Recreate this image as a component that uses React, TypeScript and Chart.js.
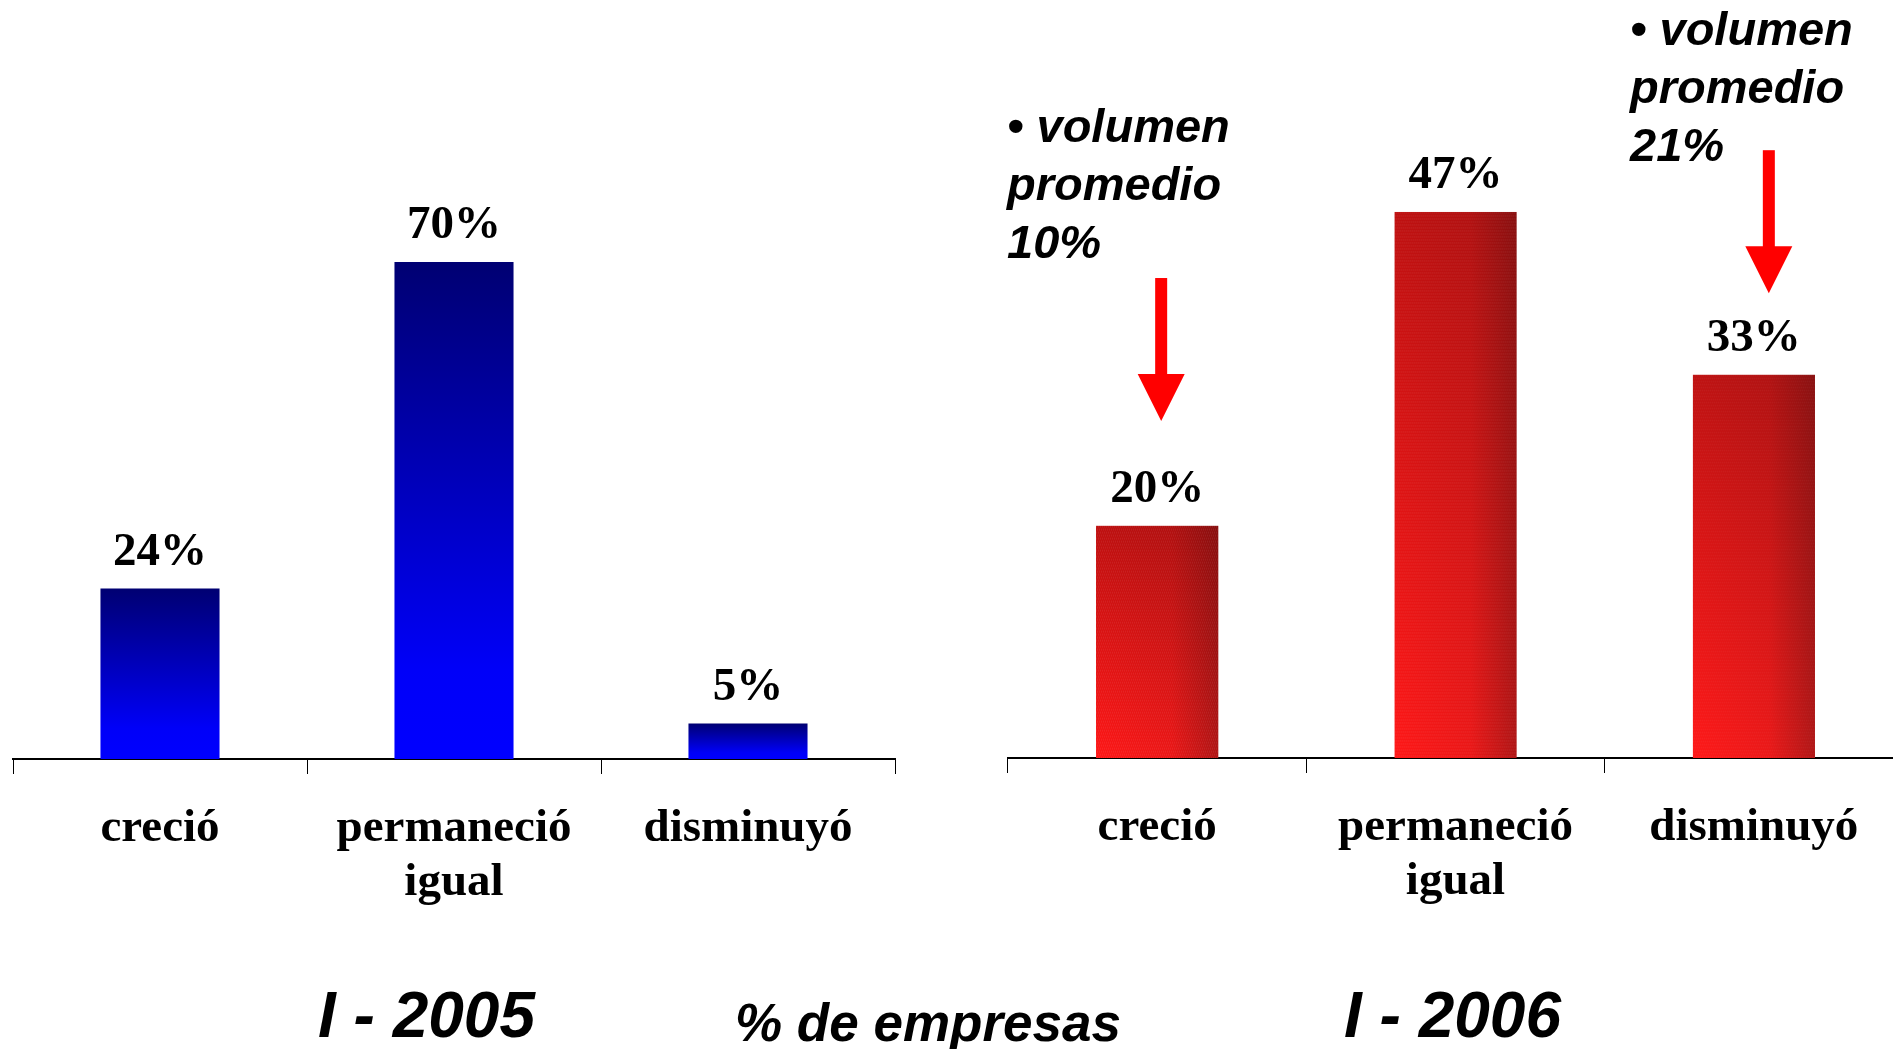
import React, { useEffect, useRef } from 'react';
import { Chart, registerables } from 'chart.js';

Chart.register(...registerables);

// ---------------- data ----------------
const categories: string[][] = [['creció'], ['permaneció', 'igual'], ['disminuyó']];
const share2005: number[] = [24, 70, 5];
const share2006: number[] = [20, 47, 33];
const avgVolume2006: (number | null)[] = [10, null, 21];
const periodLabels: string[] = ['I - 2005', 'I - 2006'];
const unitLabel = '% de empresas';
const noteLines: string[] = ['• volumen', 'promedio'];

// ---------------- layout / style ----------------
const PAGE_W = 1893;
const PAGE_H = 1049;
const RIGHT_LEFT = 950;
const RIGHT_W = 1000;
const SERIF = '"Liberation Serif", "Times New Roman", serif';
const SANS = '"Liberation Sans", Arial, sans-serif';

const BAR_PCT_2005 = 0.405;
const BAR_PCT_2006 = 0.41;

// arrows / notes for 2006 (tip in data units, note position in canvas px)
const arrowMarks2006 = [
  { index: 0, dx: 4, tipValue: 29, noteX: 57, noteY: 142 },
  { index: 2, dx: 15, tipValue: 40, noteX: 680, noteY: 45 },
];
const ARROW_SHAFT = 96;
const ARROW_HEAD = 47;

const blueFill = (ctx: any) => {
  const chart = ctx.chart;
  if (!chart.chartArea || ctx.type !== 'data') return '#0000c0';
  const ys = chart.scales.y;
  const top = ys.getPixelForValue(ctx.raw as number);
  const bottom = ys.getPixelForValue(0);
  const g = chart.ctx.createLinearGradient(0, top, 0, bottom);
  g.addColorStop(0, '#000072');
  g.addColorStop(0.82, '#0000f8');
  g.addColorStop(1, '#0000ff');
  return g;
};

const redFill = (ctx: any) => {
  const chart = ctx.chart;
  if (!chart.chartArea || ctx.type !== 'data') return '#e01414';
  const xs = chart.scales.x;
  const ys = chart.scales.y;
  const cx = xs.getPixelForValue(ctx.dataIndex);
  const w = (xs.width / categories.length) * BAR_PCT_2006;
  const top = ys.getPixelForValue(ctx.raw as number);
  const bottom = ys.getPixelForValue(0);
  const x0 = cx - w / 2;
  const off = document.createElement('canvas');
  off.width = Math.ceil(w) + 2;
  off.height = Math.ceil(bottom - top) + 2;
  const g = off.getContext('2d')!;
  const hg = g.createLinearGradient(0, 0, w, 0);
  hg.addColorStop(0, '#ff1616');
  hg.addColorStop(0.62, '#ec1616');
  hg.addColorStop(1, '#b01414');
  g.fillStyle = hg;
  g.fillRect(0, 0, off.width, off.height);
  const vg = g.createLinearGradient(0, 0, 0, off.height);
  vg.addColorStop(0, 'rgba(40,0,0,0.3)');
  vg.addColorStop(1, 'rgba(40,0,0,0)');
  g.fillStyle = vg;
  g.fillRect(0, 0, off.width, off.height);
  g.fillStyle = 'rgba(255,255,255,0.07)';
  for (let yy = 0; yy < off.height; yy += 3) {
    for (let xx = (yy / 3) % 2; xx < off.width; xx += 2) g.fillRect(xx, yy, 1, 2);
  }
  const pat = chart.ctx.createPattern(off, 'no-repeat');
  if (pat && (pat as any).setTransform) (pat as any).setTransform(new DOMMatrix([1, 0, 0, 1, x0, top]));
  return pat || '#e01414';
};

const valueLabels = {
  id: 'valueLabels',
  afterDatasetsDraw(chart: any) {
    const meta = chart.getDatasetMeta(0);
    const data = chart.data.datasets[0].data;
    const ctx = chart.ctx;
    ctx.save();
    ctx.font = `bold 47px ${SERIF}`;
    ctx.fillStyle = '#000';
    ctx.textAlign = 'center';
    ctx.textBaseline = 'alphabetic';
    meta.data.forEach((el: any, i: number) => {
      ctx.fillText(`${data[i]}%`, el.x, el.y - 24);
    });
    ctx.restore();
  },
};

const pageTitles = {
  id: 'pageTitles',
  afterDraw(chart: any) {
    const ctx = chart.ctx;
    ctx.save();
    ctx.fillStyle = '#000';
    ctx.textAlign = 'left';
    ctx.textBaseline = 'alphabetic';
    ctx.font = `italic bold 64px ${SANS}`;
    ctx.fillText(periodLabels[0], 318, 1037);
    ctx.fillText(periodLabels[1], 1344, 1037);
    ctx.font = `italic bold 53px ${SANS}`;
    ctx.fillText(unitLabel, 735, 1041);
    ctx.restore();
  },
};

const notes2006 = {
  id: 'notes2006',
  afterDatasetsDraw(chart: any) {
    const { ctx } = chart;
    const xs = chart.scales.x;
    const ys = chart.scales.y;
    ctx.save();
    arrowMarks2006.forEach((m) => {
      const cx = xs.getPixelForValue(m.index) + m.dx;
      const tip = ys.getPixelForValue(m.tipValue);
      const headBase = tip - ARROW_HEAD;
      const top = headBase - ARROW_SHAFT;
      ctx.fillStyle = '#ff0000';
      ctx.fillRect(cx - 6, top, 12, headBase - top + 1);
      ctx.beginPath();
      ctx.moveTo(cx - 23.5, headBase);
      ctx.lineTo(cx + 23.5, headBase);
      ctx.lineTo(cx, tip);
      ctx.closePath();
      ctx.fill();
      ctx.fillStyle = '#000';
      ctx.font = `italic bold 47px ${SANS}`;
      ctx.textAlign = 'left';
      ctx.textBaseline = 'alphabetic';
      const lines = [...noteLines, `${avgVolume2006[m.index]}%`];
      lines.forEach((t, i) => ctx.fillText(t, m.noteX, m.noteY + i * 58));
    });
    ctx.restore();
  },
};

function buildConfig(p: {
  values: number[];
  fill: any;
  barPct: number;
  yMax: number;
  padLeft: number;
  padRight: number;
  padTop: number;
  axisHeight: number;
  plugins: any[];
}): any {
  return {
    type: 'bar',
    data: {
      labels: categories,
      datasets: [
        {
          data: p.values,
          backgroundColor: p.fill,
          borderWidth: 0,
          barPercentage: p.barPct,
          categoryPercentage: 1,
        },
      ],
    },
    options: {
      responsive: false,
      animation: false,
      events: [],
      layout: { padding: { left: p.padLeft, right: p.padRight, top: p.padTop, bottom: 0 } },
      plugins: { legend: { display: false }, tooltip: { enabled: false }, title: { display: false } },
      scales: {
        x: {
          type: 'category',
          offset: true,
          grid: {
            display: true,
            offset: true,
            drawOnChartArea: false,
            drawTicks: true,
            tickLength: 15,
            color: '#000',
            lineWidth: 1,
          },
          border: { display: true, color: '#000', width: 2 },
          ticks: {
            color: '#000',
            padding: 28,
            maxRotation: 0,
            minRotation: 0,
            autoSkip: false,
            font: { family: SERIF, size: 47, weight: 'bold', lineHeight: 1.15 },
          },
          afterFit: (scale: any) => {
            scale.height = p.axisHeight;
          },
        },
        y: { display: false, min: 0, max: p.yMax },
      },
    },
    plugins: p.plugins,
  };
}

export default function App() {
  const leftRef = useRef<HTMLCanvasElement>(null);
  const rightRef = useRef<HTMLCanvasElement>(null);

  useEffect(() => {
    const left = new Chart(
      leftRef.current!,
      buildConfig({
        values: share2005,
        fill: blueFill,
        barPct: BAR_PCT_2005,
        yMax: 80,
        padLeft: 13,
        padRight: PAGE_W - 895,
        padTop: 191,
        axisHeight: PAGE_H - 759,
        plugins: [valueLabels, pageTitles],
      })
    );
    const right = new Chart(
      rightRef.current!,
      buildConfig({
        values: share2006,
        fill: redFill,
        barPct: BAR_PCT_2006,
        yMax: 50,
        padLeft: 1008 - RIGHT_LEFT,
        padRight: RIGHT_LEFT + RIGHT_W - 1903,
        padTop: 177,
        axisHeight: PAGE_H - 758,
        plugins: [valueLabels, notes2006],
      })
    );
    return () => {
      left.destroy();
      right.destroy();
    };
  }, []);

  return (
    <div
      style={{
        position: 'fixed',
        left: 0,
        top: 0,
        width: PAGE_W,
        height: PAGE_H,
        overflow: 'hidden',
        background: '#fff',
      }}
    >
      <canvas
        ref={leftRef}
        width={PAGE_W}
        height={PAGE_H}
        style={{ position: 'absolute', left: 0, top: 0, width: PAGE_W, height: PAGE_H }}
      />
      <canvas
        ref={rightRef}
        width={RIGHT_W}
        height={PAGE_H}
        style={{ position: 'absolute', left: RIGHT_LEFT, top: 0, width: RIGHT_W, height: PAGE_H }}
      />
    </div>
  );
}
